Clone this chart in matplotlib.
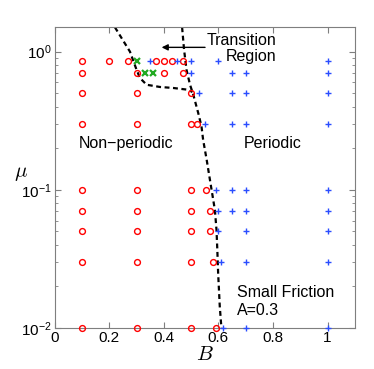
import numpy as np
import matplotlib.pyplot as plt

plt.rcParams['font.family'] = ['Liberation Sans', 'DejaVu Sans']
plt.rcParams['mathtext.fontset'] = 'cm'

# non-periodic points (B, mu)
red_B = [0.1, 0.2, 0.27, 0.37, 0.40, 0.43, 0.47,
         0.1, 0.3, 0.40, 0.47,
         0.1, 0.3, 0.5,
         0.1, 0.3, 0.5, 0.52,
         0.1, 0.3, 0.5, 0.555,
         0.1, 0.3, 0.5, 0.57,
         0.1, 0.3, 0.5, 0.57,
         0.1, 0.3, 0.5, 0.58,
         0.1, 0.3, 0.5, 0.59]
red_mu = [0.85] * 7 + [0.7] * 4 + [0.5] * 3 + [0.3] * 4 + [0.1] * 4 + \
         [0.07] * 4 + [0.05] * 4 + [0.03] * 4 + [0.01] * 4

# periodic points
blue_B = [0.35, 0.45, 0.5, 0.6, 1.0,
          0.5, 0.65, 0.7, 1.0,
          0.53, 0.65, 0.7, 1.0,
          0.55, 0.65, 0.7, 1.0,
          0.59, 0.65, 0.7, 1.0,
          0.6, 0.65, 0.7, 1.0,
          0.6, 0.7, 1.0,
          0.61, 0.7, 1.0,
          0.615, 0.7, 1.0]
blue_mu = [0.85] * 5 + [0.7] * 4 + [0.5] * 4 + [0.3] * 4 + [0.1] * 4 + \
          [0.07] * 4 + [0.05] * 3 + [0.03] * 3 + [0.01] * 3

# transition points
green_B = [0.3, 0.33, 0.36]
green_mu = [0.85, 0.7, 0.7]

# boundary curves
bnd1_B = [0.221, 0.276, 0.30, 0.3125, 0.337, 0.386, 0.434, 0.489, 0.505]
bnd1_mu = [1.5, 1.0, 0.741, 0.645, 0.576, 0.555, 0.546, 0.53, 0.51]
bnd2_B = [0.467, 0.474, 0.483, 0.496, 0.508, 0.526, 0.538, 0.544, 0.557,
          0.569, 0.577, 0.587, 0.593, 0.596, 0.599, 0.605, 0.611]
bnd2_mu = [1.5, 1.04, 0.741, 0.576, 0.488, 0.36, 0.288, 0.23, 0.165,
           0.118, 0.0946, 0.0716, 0.0513, 0.0367, 0.0249, 0.0143, 0.01]

fig = plt.figure(figsize=(3.74, 3.69), dpi=100)
ax = fig.add_axes([0.146, 0.111, 0.803, 0.815])

dash = (0, (2.2, 1.6))
ax.plot(bnd1_B, bnd1_mu, color='k', lw=1.6, linestyle=dash)
ax.plot(bnd2_B, bnd2_mu, color='k', lw=1.6, linestyle=dash)

ax.plot(red_B, red_mu, 'o', mfc='none', mec='#ff0000', ms=4.2, mew=1.0, clip_on=False, zorder=3)
ax.plot(blue_B, blue_mu, '+', color='#2a4dff', ms=5, mew=1.0, clip_on=False, zorder=3)
ax.plot(green_B, green_mu, 'x', color='#22aa22', ms=3.8, mew=1.6, clip_on=False, zorder=3)

ax.set_yscale('log')
ax.set_xlim(0, 1.1)
ax.set_ylim(0.01, 1.5)
ax.set_xticks(np.arange(0, 1.01, 0.2))
ax.set_xticklabels(['0', '0.2', '0.4', '0.6', '0.8', '1'])

ax.annotate('', xy=(0.392, 1.074), xytext=(0.551, 1.074),
            arrowprops=dict(arrowstyle='-|>', color='k', lw=1.0,
                            mutation_scale=9, shrinkA=0, shrinkB=0))
ax.text(0.812, 1.06, 'Transition\nRegion', ha='right', va='center',
        multialignment='right', fontsize=11.5, linespacing=1.1)
ax.text(0.09, 0.215, 'Non\u2212periodic', ha='left', va='center', fontsize=11.5)
ax.text(0.693, 0.215, 'Periodic', ha='left', va='center', fontsize=11.5)
ax.text(0.668, 0.0156, 'Small Friction\nA=0.3', ha='left', va='center',
        fontsize=11.5, linespacing=1.2)

ax.set_xlabel(r'$B$', fontsize=15, va='top')
ax.xaxis.set_label_coords(0.5, -0.055)
ax.set_ylabel(r'$\mu$', fontsize=15, rotation=0, ha='center', va='center')
ax.yaxis.set_label_coords(-0.112, 0.515)

for s in ax.spines.values():
    s.set_color('#7f7f7f')
    s.set_linewidth(0.8)
ax.tick_params(which='both', direction='in', top=True, right=True,
               color='#7f7f7f', labelsize=11, labelcolor='k', pad=2)
ax.tick_params(which='major', length=4)
ax.tick_params(which='minor', length=2)

fig.savefig('out.png', dpi=100)
